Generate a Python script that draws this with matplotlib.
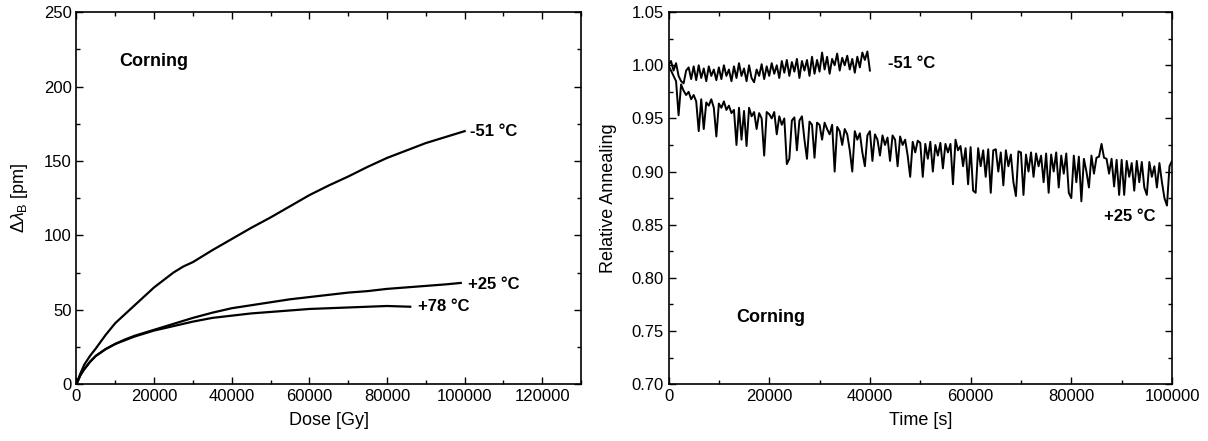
import numpy as np
import matplotlib
matplotlib.use('Agg')
import matplotlib.pyplot as plt
from matplotlib.ticker import MultipleLocator

plt.rcParams['font.family'] = ['Liberation Sans', 'DejaVu Sans']
plt.rcParams['mathtext.fontset'] = 'custom'
plt.rcParams['mathtext.rm'] = 'Liberation Sans'
plt.rcParams['mathtext.it'] = 'Liberation Sans:italic'

# left panel: Bragg wavelength shift vs dose
dose_m51 = [0, 1000, 2000, 3500, 5000, 7500, 10000, 12500, 15000, 17500, 20000, 22500,
            25000, 27500, 30000, 35000, 40000, 45000, 50000, 55000, 60000, 65000, 70000,
            75000, 80000, 85000, 90000, 95000, 100000]
shift_m51 = [0, 7, 13, 19, 24, 33, 41, 47, 53, 59, 65, 70,
             75, 79, 82, 90, 97.5, 105, 112, 119.5, 127, 133.5, 139.5,
             146, 152, 157, 162, 166, 170]

dose_p25 = [0, 1000, 2000, 3500, 5000, 7500, 10000, 12500, 15000, 20000, 25000, 30000,
            35000, 40000, 45000, 50000, 55000, 60000, 65000, 70000, 75000, 80000, 85000,
            90000, 95000, 99000]
shift_p25 = [0, 6, 10, 15, 19, 23.5, 27, 30, 32.5, 36.5, 40.5, 44.5,
             48, 51, 53, 55, 57, 58.5, 60, 61.5, 62.5, 64, 65, 66, 67, 68]

dose_p78 = [0, 1000, 2000, 3500, 5000, 7500, 10000, 12500, 15000, 20000, 25000, 30000,
            35000, 40000, 45000, 50000, 55000, 60000, 65000, 70000, 75000, 80000, 86000]
shift_p78 = [0, 6, 10, 15, 19, 23.5, 27, 29.5, 32, 36, 39, 42,
             44.5, 46, 47.5, 48.5, 49.5, 50.5, 51, 51.5, 52, 52.5, 52]

# right panel: relative annealing vs time (sampled every 500 s)
time_p25 = list(range(0, 100001, 500))
ann_p25 = [
    1.000, 0.995, 0.990, 0.985, 0.953, 0.982, 0.976, 0.972, 0.975, 0.968,
    0.972, 0.966, 0.938, 0.968, 0.940, 0.965, 0.962, 0.968, 0.960, 0.933,
    0.964, 0.960, 0.966, 0.958, 0.962, 0.955, 0.958, 0.925, 0.960, 0.930,
    0.957, 0.924, 0.960, 0.952, 0.956, 0.940, 0.955, 0.950, 0.915, 0.956,
    0.954, 0.950, 0.956, 0.935, 0.952, 0.944, 0.950, 0.907, 0.912, 0.948,
    0.951, 0.920, 0.948, 0.952, 0.930, 0.912, 0.947, 0.944, 0.913, 0.946,
    0.944, 0.930, 0.946, 0.940, 0.935, 0.944, 0.900, 0.942, 0.938, 0.925,
    0.940, 0.935, 0.920, 0.900, 0.938, 0.930, 0.936, 0.918, 0.905, 0.934,
    0.938, 0.910, 0.935, 0.930, 0.915, 0.934, 0.925, 0.932, 0.910, 0.934,
    0.930, 0.905, 0.933, 0.925, 0.930, 0.915, 0.895, 0.928, 0.918, 0.929,
    0.927, 0.895, 0.926, 0.912, 0.928, 0.900, 0.925, 0.915, 0.927, 0.903,
    0.926, 0.918, 0.926, 0.888, 0.930, 0.920, 0.924, 0.905, 0.922, 0.888,
    0.923, 0.882, 0.880, 0.922, 0.905, 0.920, 0.895, 0.921, 0.880, 0.920,
    0.921, 0.900, 0.918, 0.887, 0.920, 0.905, 0.916, 0.890, 0.877, 0.919,
    0.918, 0.878, 0.916, 0.900, 0.918, 0.895, 0.917, 0.905, 0.915, 0.890,
    0.917, 0.880, 0.916, 0.900, 0.918, 0.885, 0.915, 0.898, 0.917, 0.880,
    0.875, 0.915, 0.890, 0.914, 0.872, 0.912, 0.900, 0.885, 0.915, 0.898,
    0.913, 0.914, 0.926, 0.913, 0.912, 0.898, 0.912, 0.886, 0.911, 0.878,
    0.911, 0.878, 0.910, 0.895, 0.908, 0.882, 0.910, 0.890, 0.909, 0.885,
    0.878, 0.909, 0.895, 0.905, 0.885, 0.908, 0.890, 0.875, 0.868, 0.905,
    0.910]

time_m51 = list(range(0, 40001, 500))
ann_m51 = [
    1.000, 1.004, 0.995, 1.002, 0.990, 0.985, 0.983, 0.995, 0.998, 0.987,
    0.999, 0.986, 1.000, 0.988, 0.997, 0.985, 0.999, 0.990, 0.996, 0.986,
    0.998, 0.987, 1.000, 0.990, 0.996, 0.985, 0.999, 0.988, 1.002, 0.990,
    0.997, 0.985, 1.000, 0.988, 0.984, 0.996, 0.990, 1.001, 0.987, 0.999,
    0.990, 1.002, 0.992, 1.000, 0.988, 1.004, 0.993, 1.005, 0.990, 1.003,
    0.994, 1.006, 0.988, 1.004, 0.995, 1.005, 0.990, 1.008, 0.992, 1.005,
    0.994, 1.012, 0.996, 1.008, 0.992, 1.006, 1.000, 1.011, 0.995, 1.007,
    1.000, 1.009, 0.996, 1.006, 0.993, 1.008, 0.998, 1.012, 1.005, 1.013,
    0.995]

fig = plt.figure(figsize=(12.08, 4.41), dpi=100)
ax1 = fig.add_axes([0.0633, 0.129, 0.4177, 0.8435])
ax2 = fig.add_axes([0.5534, 0.129, 0.4168, 0.8435])

for d, s in [(dose_m51, shift_m51), (dose_p25, shift_p25), (dose_p78, shift_p78)]:
    ax1.plot(d, s, color='black', lw=1.6)
ax1.set_xlim(0, 130000)
ax1.set_ylim(0, 250)
ax1.xaxis.set_major_locator(MultipleLocator(20000))
ax1.xaxis.set_minor_locator(MultipleLocator(10000))
ax1.yaxis.set_major_locator(MultipleLocator(50))
ax1.yaxis.set_minor_locator(MultipleLocator(25))
ax1.set_xlabel('Dose [Gy]', fontsize=13, labelpad=6)
ax1.set_ylabel(r'$\Delta\lambda_{\rm B}$ [pm]', fontsize=13, labelpad=10)
ax1.text(11000, 217, 'Corning', fontsize=13, fontweight='bold', va='center')
ax1.text(101500, 170, '-51 °C', fontsize=12, fontweight='bold', va='center')
ax1.text(101000, 67, '+25 °C', fontsize=12, fontweight='bold', va='center')
ax1.text(88000, 52, '+78 °C', fontsize=12, fontweight='bold', va='center')

ax2.plot(time_m51, ann_m51, color='black', lw=1.4)
ax2.plot(time_p25, ann_p25, color='black', lw=1.4)
ax2.set_xlim(0, 100000)
ax2.set_ylim(0.70, 1.05)
ax2.xaxis.set_major_locator(MultipleLocator(20000))
ax2.xaxis.set_minor_locator(MultipleLocator(10000))
ax2.yaxis.set_major_locator(MultipleLocator(0.05))
ax2.yaxis.set_minor_locator(MultipleLocator(0.025))
ax2.yaxis.set_major_formatter(plt.FormatStrFormatter('%.2f'))
ax2.set_xlabel('Time [s]', fontsize=13, labelpad=6)
ax2.set_ylabel('Relative Annealing', fontsize=13, labelpad=10)
ax2.text(43500, 1.002, '-51 °C', fontsize=12, fontweight='bold', va='center')
ax2.text(86500, 0.858, '+25 °C', fontsize=12, fontweight='bold', va='center')
ax2.text(13500, 0.763, 'Corning', fontsize=13, fontweight='bold', va='center')

for ax in (ax1, ax2):
    ax.tick_params(which='both', direction='in', top=True, right=True, labelsize=12)
    ax.tick_params(which='major', length=5, width=1)
    ax.tick_params(which='minor', length=3, width=1)
    for sp in ax.spines.values():
        sp.set_linewidth(1.2)

fig.savefig('out.png', dpi=100)
